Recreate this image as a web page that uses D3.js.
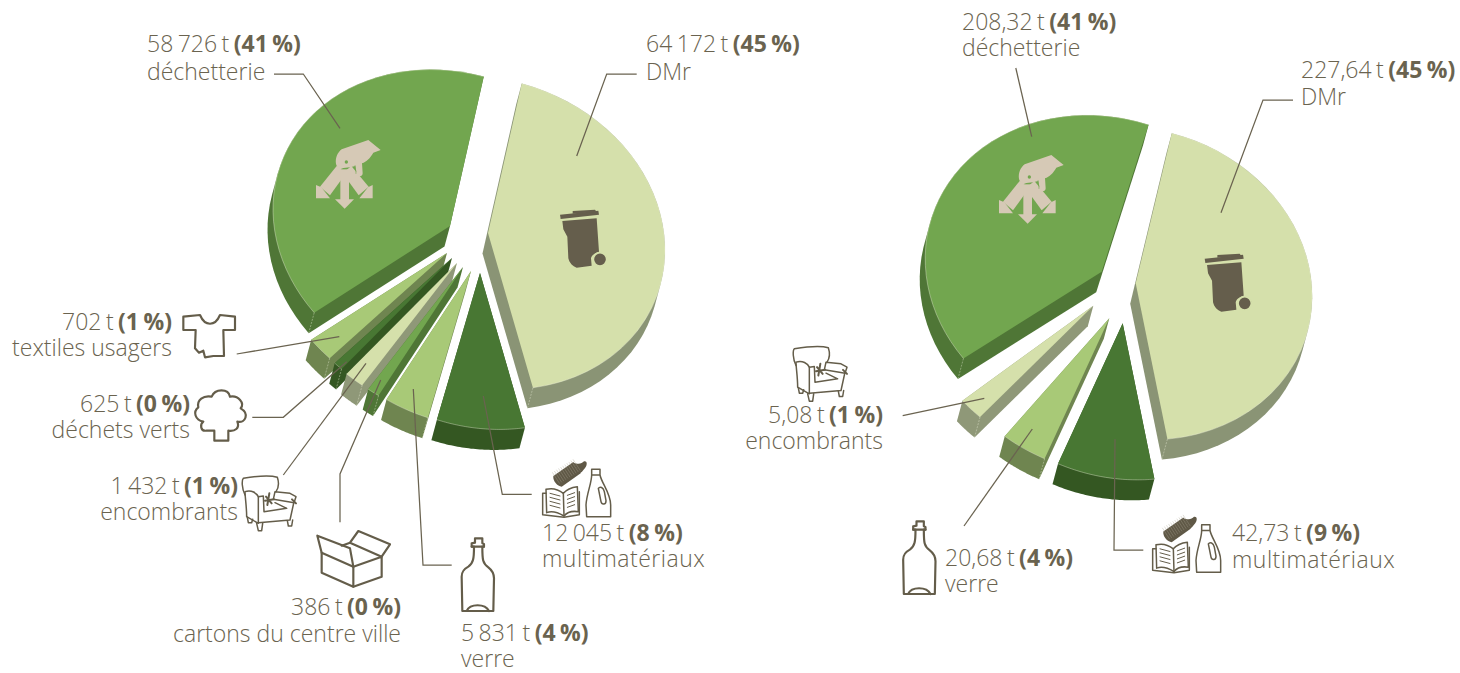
<!DOCTYPE html>
<html lang="fr">
<head>
<meta charset="utf-8">
<script src="https://cdn.jsdelivr.net/npm/d3@7"></script>
<style>
html,body{margin:0;padding:0;background:#fff;overflow:hidden}
svg{display:block}
text{font-family:"Open Sans",Lato,sans-serif;font-weight:300;font-size:23px;fill:#6a634f}
text .b{font-weight:700}
text .l1{word-spacing:-1.5px}
.ic{fill:none;stroke:#645d4a;stroke-width:6.5;stroke-linejoin:round;stroke-linecap:round}
</style>
</head>
<body>
<svg id="c" width="1460" height="673" viewBox="0 0 1460 673"></svg>
<script>
// ---- data ----
const leftCategories  = ["DMr","multimatériaux","verre","cartons du centre ville","encombrants","déchets verts","textiles usagers","déchetterie"];
const leftTonnes      = [64172,12045,5831,386,1432,625,702,58726];
const leftPercent     = [45,8,4,0,1,0,1,41];
// angular width of each wedge as actually drawn (degrees): small wedges are enlarged in the original
const leftDrawnDegrees = [154.3,28.8,14.4,3.9,6.2,2.9,8.6,140.9];
const leftDrawnGaps    = [0,0,0,0,0,0,0,0];

const rightCategories = ["DMr","multimatériaux","verre","encombrants","déchetterie"];
const rightTonnes     = [227.64,42.73,20.68,5.08,208.32];
const rightPercent    = [45,9,4,1,41];
const rightDrawnDegrees = [158.6,32,14.9,8,144.5];
const rightDrawnGaps    = [0,0,3.6,3.7,-3.6];

// ---- styling and layout, separate from the values ----
const topColour  = {"DMr":"#d5e0ab","déchetterie":"#72a64f","multimatériaux":"#487733","verre":"#a8c977","cartons du centre ville":"#72a64f","encombrants":"#d5e0ab","déchets verts":"#487733","textiles usagers":"#a8c977"};
const wallColour = {"DMr":"#8a9475","déchetterie":"#4f7636","multimatériaux":"#345722","verre":"#6f8550","cartons du centre ville":"#4f7636","encombrants":"#8f9878","déchets verts":"#345722","textiles usagers":"#6f8550"};
const leftLayout = {
  centre:[470,245], start:11, tilt:[177,17,155.5], paint:[7,6,5,4,3,2,1,0],
  pull:{"DMr":[18,-12],"multimatériaux":[10,28],"verre":[1,26],"cartons du centre ville":[-7,22],"encombrants":[-13,18],"déchets verts":[-18,13],"textiles usagers":[-23,8],"déchetterie":[-20,-19]},
  fmt:",.0f",
  labels:{
    "déchetterie":[147,52,80,"start"],"DMr":[646,52,80,"start"],"textiles usagers":[172,330,356,"end"],
    "déchets verts":[190,412,438,"end"],"encombrants":[238,494,520,"end"],"cartons du centre ville":[401,615,642,"end"],
    "verre":[461,641,667,"start"],"multimatériaux":[542,541,567,"start"]},
  leaders:[[[274,74],[303.3,74],[340,128.3]],[[636.7,74],[606.7,74],[576.7,156]],[[236.7,354],[339.3,336.7]],
    [[252.3,417.3],[283.3,417.3],[346.7,361.7]],[[283.3,475],[366,363.3]],[[340,522.3],[340,474],[380.7,380]],
    [[451.7,565],[423,565],[413.3,389]],[[531.7,494.3],[502.3,494.3],[483.3,396]]]
};
const rightLayout = {
  centre:[1115,295], start:11.8, tilt:[176.5,13,156],  paint:[4,3,2,1,0],
  pull:{"DMr":[20.7,-11.7],"multimatériaux":[7.7,28.3],"verre":[-5.7,23.3],"encombrants":[-21.7,10.7],"déchetterie":[-13.3,-23.3]},
  fmt:",.2f",
  labels:{
    "déchetterie":[962,30,56,"start"],"DMr":[1301,78,105,"start"],"encombrants":[883,423,449,"end"],
    "verre":[945,566,592,"start"],"multimatériaux":[1232,541,568,"start"]},
  leaders:[[[1015.8,68],[1031.7,136.7]],[[1293,100],[1263,100],[1221,212.7]],[[902.7,415.7],[984.3,398.3]],
    [[964,526],[1032.3,429]],[[1143.3,550],[1114,550],[1115,439.3]]]
};
const wallDepth = [-5.5,20.5];
const locale = d3.formatLocale({decimal:",",thousands:"\u00a0",grouping:[3],currency:["",""]});
const rad = d3.scaleLinear().domain([0,180]).range([0,Math.PI]);
const svg = d3.select("#c");

function drawPie(cats,tonnes,pct,deg,gaps,L){
  const rows = cats.map((name,i)=>({name,t:tonnes[i],p:pct[i],deg:deg[i],gap:gaps[i]}));
  const pie = d3.pie().sort(null).value(d=>d.deg+d.gap).startAngle(rad(L.start)).endAngle(rad(L.start+360));
  const R = 100; // nominal radius of the un-tilted disc
  const arc = d3.arc().innerRadius(0).outerRadius(R);
  const [a,b,d] = L.tilt;
  const wedges = pie(rows).map(w=>{
    const a0 = w.startAngle, a1 = w.endAngle - rad(w.data.gap);
    const o = [L.centre[0]+L.pull[w.data.name][0], L.centre[1]+L.pull[w.data.name][1]];
    const project = t=>[o[0]+a*Math.sin(t), o[1]+b*Math.sin(t)-d*Math.cos(t)];
    const rim = d3.range(0,41).map(k=>project(a0+(a1-a0)*k/40));
    return {...w,a0,a1,o,rim};
  });
  const g = svg.append("g");
  L.paint.forEach(i=>{
    const w = wedges[i], c = w.data.name;
    const pts = [w.o,...w.rim];
    const shifted = pts.map(p=>[p[0]+wallDepth[0],p[1]+wallDepth[1]]);
    g.append("path").attr("d","M"+d3.polygonHull(pts.concat(shifted)).join("L")+"Z").attr("fill",wallColour[c]);
    g.append("path")
      .attr("d",arc({startAngle:w.a0,endAngle:w.a1}))
      .attr("transform",`matrix(${a/R},${b/R},0,${d/R},${w.o[0]},${w.o[1]})`)
      .attr("fill",topColour[c]);
    g.append("path").attr("d",d3.line()(w.rim)).attr("fill","none").attr("stroke","#eef2dc").attr("stroke-opacity",.55).attr("stroke-width",.7);
    if(c!=="multimatériaux"){
      const s = c==="DMr"?w.rim[40]:w.rim[0];
      g.append("path").attr("d",d3.line()([s,[s[0]+wallDepth[0],s[1]+wallDepth[1]]]))
        .attr("stroke","#eef2dc").attr("stroke-opacity",.55).attr("stroke-width",.7).attr("stroke-dasharray","2 1.2");
    }
  });
  // leaders
  L.leaders.forEach(pts=>svg.append("path").attr("d",d3.line()(pts)).attr("fill","none").attr("stroke","#6a6350").attr("stroke-width",1.25));
  // labels: one text element with two lines
  const f = locale.format(L.fmt);
  rows.forEach(r=>{
    const [x,y1,y2,anc] = L.labels[r.name];
    const t = svg.append("text").attr("text-anchor",anc);
    const l1 = t.append("tspan").attr("class","l1").attr("x",x).attr("y",y1);
    l1.append("tspan").text(f(r.t)+" t ");
    l1.append("tspan").attr("class","b").text("("+r.p+" %)");
    t.append("tspan").attr("x",x).attr("y",y2).attr("letter-spacing",r.name==="multimatériaux"?.5:null).text(r.name);
  });
}
drawPie(leftCategories,leftTonnes,leftPercent,leftDrawnDegrees,leftDrawnGaps,leftLayout);
drawPie(rightCategories,rightTonnes,rightPercent,rightDrawnDegrees,rightDrawnGaps,rightLayout);

// ---- pictograms (traced at 3x, origin = crop origin) ----
const canStripes = d3.range(0,11).map(k=>{
  const cx=768+k*6.2, cy=84-k*3.9;
  return `M${cx-11},${cy-17}L${cx+11},${cy+17}`;
}).join("");
const icons = {
 hand:`<g fill="#d6c9b6" stroke="none">
  <path d="M78,102C75,85 82,68 95,58L175,30L212,60L190,68C180,85 170,95 156,100L158,130C158,142 142,142 140,130L136,108L120,112L100,114L85,120Z"/>
  <path d="M80,108L108,130L60,196L30,170Z"/><path d="M18,165L18,205L60,205L48,190L34,172Z"/>
  <path d="M124,108L98,130L146,196L176,170Z"/><path d="M188,165L188,205L148,205L160,190L174,172Z"/>
  <path d="M91,118L117,118L117,210L91,210Z"/><path d="M75,208L132,208L104,236Z"/>
  <circle cx="109" cy="96" r="5" fill="#72a64f"/><path d="M135,105L138,132" stroke="#72a64f" stroke-width="1.5" fill="none"/></g>`,
 bin:`<g fill="#655e4c" stroke="none"><path d="M30,44L145,32L147,44L32,57Z"/><path d="M68,33L135,29L140,36L68,41Z"/>
  <path d="M37,63L140,55L147,155C135,158 125,165 123,175L125,197L80,203C68,200 58,188 55,175L52,110L40,88Z"/>
  <circle cx="150" cy="178" r="20" stroke="#d5e0ab" stroke-width="5"/></g>`,
 shirt:`<g class="ic"><path d="M550,50L600,45C615,80 645,80 660,45L705,50L705,90L670,90L672,168L640,168L615,172L610,152L597,158L585,145L587,90L550,90Z"/></g>`,
 tree:`<g class="ic"><path d="M643,392L620,392C600,395 600,372 610,365C585,360 578,335 595,322C590,300 610,285 635,290C645,265 685,265 690,290C715,285 735,310 722,325C748,340 738,370 712,365C720,385 705,395 685,392L685,422L643,422Z"/></g>`,
 chair:`<g class="ic" style="stroke-width:4.5"><path d="M165,105C155,85 155,60 160,55C190,50 240,45 262,52C268,70 265,85 258,95"/>
  <path d="M165,95C185,88 200,100 205,110L205,190L170,170C170,140 165,110 165,95Z"/><path d="M205,110L220,108L222,155L290,145L255,128"/>
  <path d="M205,188L300,180L312,125"/><path d="M255,95L300,100L318,110L312,128L295,125L250,118Z"/>
  <path d="M172,172L175,188L185,188L188,178M200,190L205,212L215,212L218,190M292,182L295,198L305,198L308,180"/>
  <path d="M228,110L245,130M238,100L232,135M225,122L252,118M306,118L318,130" style="stroke-width:6"/></g>`,
 box:`<g class="ic"><path d="M65,308L160,350L160,410L65,368Z"/><path d="M160,350L245,320L245,380L160,410"/><path d="M65,308L52,257L150,295L160,350"/>
  <path d="M150,278L175,243L270,283L245,320L150,278L125,287"/></g>`,
 bottle:`<g class="ic"><path d="M525,265L547,265L547,280L552,282L552,290L547,290C547,330 548,340 565,352C578,362 582,370 582,385L580,483L487,483L485,380C485,365 490,358 505,350C520,340 522,325 522,290L515,290L515,280L525,278Z"/><path d="M500,483C510,460 555,460 567,483M515,290L552,290"/></g>`,
 multi:`<g class="ic" style="stroke-width:4.5"><path d="M875,58L900,58L900,75C905,100 932,130 932,165L932,200L860,200L858,165C860,130 875,100 875,75ZM875,75L900,75"/>
  <path d="M895,115C900,108 910,112 913,125L918,152C918,165 905,165 903,155Z"/>
  <path d="M738,118C760,112 780,122 790,130C800,118 815,112 832,110L835,185C815,182 800,188 792,198C775,188 755,182 740,188Z"/>
  <path d="M738,130L728,130L728,194L792,202L838,194L838,125"/><path d="M790,130L792,198"/>
  <path d="M750,130L780,138M750,142L780,150M750,154L780,162M750,166L780,174M802,136L824,128M802,148L824,140M802,160L824,152M802,172L824,164" style="stroke-width:3"/>
  <path d="M760,78L820,36L842,70L785,110C772,108 758,94 760,78Z" fill="#5f5846" stroke="none"/>
  <path d="M820,38C838,44 845,40 852,34C864,32 862,48 852,58C848,64 844,68 840,70Z" fill="#5f5846" stroke="none"/>
  <path d="${canStripes}" style="stroke:#a9a392;stroke-width:1.1;stroke-linecap:butt"/></g>`
};
function icon(kind,ox,oy){
  svg.append("g").attr("transform",`translate(${ox},${oy}) scale(${1/3})`).html(icons[kind]);
}
icon("hand",310,130); icon("hand",993,145);
icon("bin",550,200); icon("bin",1194.7,244);
icon("shirt",0,300); icon("tree",0,300); icon("chair",190,460); icon("chair",741,330.5);
icon("box",300,450); icon("bottle",300,450); icon("bottle",741.5,433);
icon("multi",300,450); icon("multi",910,505.5);
</script>
</body>
</html>
